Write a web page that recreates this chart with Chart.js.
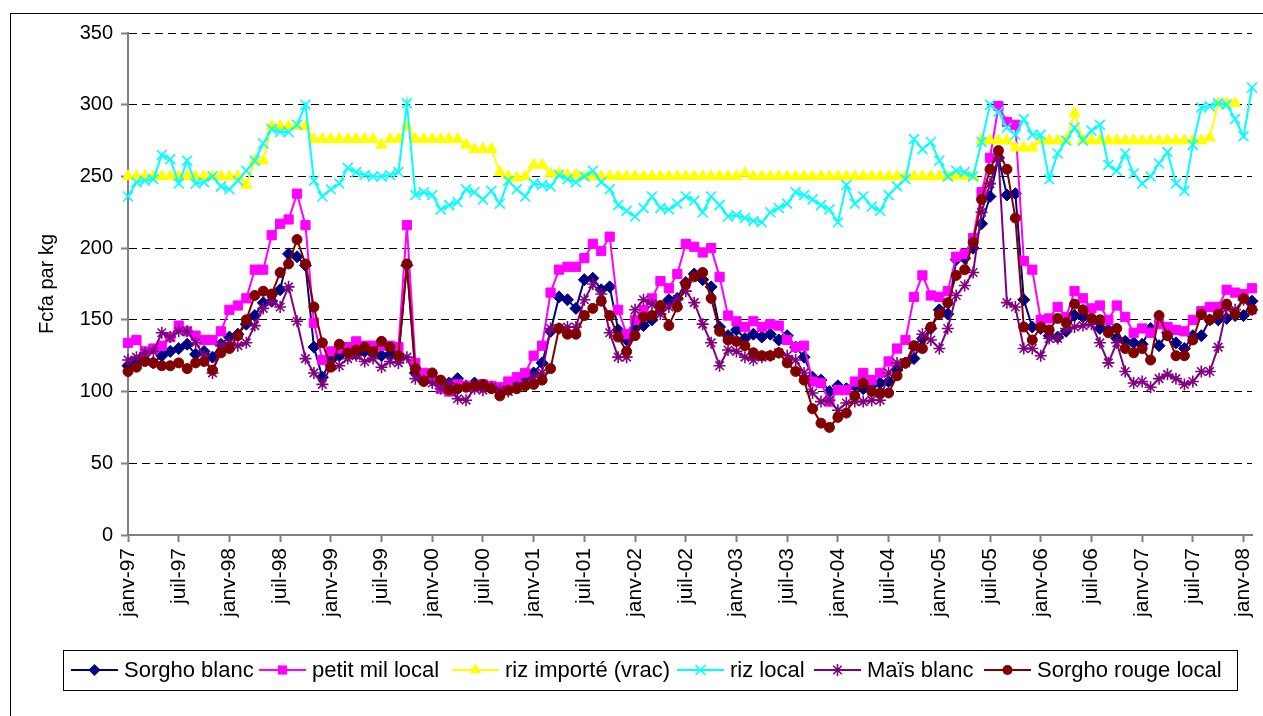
<!DOCTYPE html>
<html><head><meta charset="utf-8">
<script src="https://cdn.jsdelivr.net/npm/chart.js@4.4.1/dist/chart.umd.min.js"></script>
<style>html,body{margin:0;padding:0;background:#fff;}canvas{display:block;}</style>
</head><body>
<canvas id="c" width="1263" height="716"></canvas>
<script>
// ---- categories / ticks ----
const monthNames = ['janv','févr','mars','avr','mai','juin','juil','août','sept','oct','nov','déc'];
const startYear = 1997;
const monthCount = 134; // janv-97 .. févr-08
const categories = [];
for (let i = 0; i < monthCount; i++) {
  const y = startYear + Math.floor(i / 12);
  categories.push(monthNames[i % 12] + '-' + String(y % 100).padStart(2, '0'));
}
const tickEvery = 6;
const yTicks = [0, 50, 100, 150, 200, 250, 300, 350];
const yTitle = 'Fcfa par kg';

// ---- series ----
const sorghoBlanc = [
118,121,122,120,125,128,130,133,126,128,124,133,
138,140,147,153,162,163,171,196,194,188,131,110,
122,125,128,126,128,126,125,126,124,188,113,110,
108,106,106,109,104,106,104,103,102,103,107,110,
113,120,142,166,164,158,178,179,171,173,143,136,
144,146,150,159,164,165,176,182,178,173,145,139,
143,137,140,138,140,136,139,131,124,110,108,100,
104,102,104,102,104,106,107,115,120,123,137,144,
157,154,192,193,200,217,236,263,237,238,164,145,
144,139,138,142,153,152,151,144,143,137,135,134,
133,144,132,141,134,130,139,139,150,150,151,153,
153,163];
const petitMil = [
134,136,128,130,132,138,146,142,139,136,136,142,
157,160,165,185,185,209,217,220,238,216,148,122,
128,130,131,135,132,132,132,132,131,216,120,113,
110,102,100,105,104,103,105,104,103,107,110,113,
125,132,169,185,187,187,193,203,198,208,157,140,
150,157,165,177,172,182,203,201,197,200,180,153,
149,145,149,145,147,146,136,131,132,107,106,93,
101,101,107,113,108,113,121,130,136,166,181,167,
166,170,194,196,207,239,263,299,288,286,191,185,
150,151,159,152,170,165,158,160,150,160,152,141,
144,141,147,145,143,142,150,156,159,159,171,169,
168,172];
const rizImporte = [
250,250,250,250,250,250,250,250,250,250,250,250,
250,250,244,261,261,285,285,285,285,285,276,276,
276,276,276,276,276,276,272,276,276,285,276,276,
276,276,276,276,272,269,269,269,253,250,249,250,
258,258,252,252,251,251,250,250,250,250,250,250,
250,250,250,250,250,250,250,250,250,250,250,250,
250,252,250,250,250,250,250,250,250,250,250,250,
250,250,250,250,250,250,250,250,250,250,250,250,
250,250,250,250,250,275,275,275,275,270,270,270,
275,275,275,275,294,275,275,275,275,275,275,275,
275,275,275,275,275,275,275,275,277,301,301,301,
null,null];
const rizLocal = [
236,246,247,248,265,262,245,261,245,246,250,243,
241,247,254,261,273,283,281,281,286,300,247,236,
241,245,256,253,251,250,250,251,253,301,237,239,
237,227,230,232,241,239,234,240,231,247,241,236,
245,244,243,251,248,246,250,254,246,241,230,226,
222,228,236,228,227,231,236,233,225,236,230,222,
223,221,219,218,225,228,231,239,237,234,230,227,
218,244,231,236,229,226,237,243,248,276,269,274,
261,250,254,253,250,274,300,295,284,279,290,279,
279,248,266,275,284,275,282,286,258,254,266,252,
245,250,259,267,245,240,272,298,299,301,300,290,
278,312];
const maisBlanc = [
122,124,127,128,141,138,142,142,134,125,113,132,
134,132,134,146,158,163,159,173,149,123,113,105,
118,118,123,125,121,123,117,121,120,124,109,108,
106,102,106,95,94,102,101,103,101,100,103,106,
110,113,144,144,145,145,164,175,168,141,124,124,
157,164,161,154,159,164,170,162,147,134,118,129,
128,124,122,124,125,127,125,122,113,99,93,94,
87,92,93,93,94,94,113,120,120,130,140,136,
130,144,167,174,183,225,245,263,162,159,130,130,
125,137,137,144,145,146,147,134,120,134,114,106,
107,103,109,112,109,105,107,114,114,131,158,157,
164,157];
const sorghoRouge = [
114,117,121,120,118,118,120,116,120,121,115,127,
130,139,150,167,170,168,183,189,206,189,159,134,
117,133,127,129,131,128,135,131,125,189,116,107,
113,108,101,102,103,104,105,102,97,101,102,104,
105,108,116,144,140,140,153,158,163,153,138,128,
139,152,153,160,146,159,175,180,183,165,142,136,
135,132,127,125,125,127,120,114,108,88,78,75,
82,85,97,106,100,99,99,111,120,132,130,145,
154,162,181,185,204,234,255,268,255,221,145,136,
145,143,151,148,161,157,151,150,141,144,130,127,
130,122,153,139,125,125,136,154,150,154,161,154,
165,157];

const seriesNames = ['Sorgho blanc','petit mil local','riz importé (vrac)','riz local','Maïs blanc','Sorgho rouge local'];
const seriesData = [sorghoBlanc, petitMil, rizImporte, rizLocal, maisBlanc, sorghoRouge];
const seriesColors = ['#000080','#FF00FF','#FFFF00','#00FFFF','#800080','#800000'];
const seriesStyles = ['rectRot','rect','triangle','crossRot','star','circle'];
const seriesRadius = [6, 6.5, 6.5, 7, 6, 5];

const FONT = "'Liberation Sans', Arial, sans-serif";
Chart.defaults.font.family = FONT;
Chart.defaults.color = '#000';

const datasets = seriesNames.map((name, k) => ({
  label: name,
  data: seriesData[k],
  borderColor: seriesColors[k],
  backgroundColor: seriesColors[k],
  pointBackgroundColor: seriesColors[k],
  pointBorderColor: seriesColors[k],
  pointStyle: seriesStyles[k],
  pointRadius: seriesRadius[k],
  pointHoverRadius: seriesRadius[k],
  pointBorderWidth: (seriesStyles[k] === 'crossRot' || seriesStyles[k] === 'star') ? 1.6 : 1,
  borderWidth: 2,
  tension: 0,
  fill: false,
  clip: false,
  order: seriesNames.length - k
}));

function drawMarker(ctx, style, color, x, y, r) {
  ctx.save();
  ctx.fillStyle = color; ctx.strokeStyle = color; ctx.lineWidth = 1.6;
  ctx.beginPath();
  if (style === 'rectRot') {
    ctx.moveTo(x - r, y); ctx.lineTo(x, y - r); ctx.lineTo(x + r, y); ctx.lineTo(x, y + r); ctx.closePath(); ctx.fill();
  } else if (style === 'rect') {
    const s = r * Math.SQRT1_2; ctx.rect(x - s, y - s, 2 * s, 2 * s); ctx.fill();
  } else if (style === 'triangle') {
    ctx.moveTo(x, y - r); ctx.lineTo(x + r * 0.866, y + r * 0.5); ctx.lineTo(x - r * 0.866, y + r * 0.5); ctx.closePath(); ctx.fill();
  } else if (style === 'crossRot') {
    const s = r * Math.SQRT1_2; ctx.moveTo(x - s, y - s); ctx.lineTo(x + s, y + s); ctx.moveTo(x + s, y - s); ctx.lineTo(x - s, y + s); ctx.stroke();
  } else if (style === 'star') {
    const s = r * Math.SQRT1_2; ctx.moveTo(x - s, y - s); ctx.lineTo(x + s, y + s); ctx.moveTo(x + s, y - s); ctx.lineTo(x - s, y + s);
    ctx.moveTo(x, y - r); ctx.lineTo(x, y + r); ctx.stroke();
  } else {
    ctx.arc(x, y, r, 0, Math.PI * 2); ctx.fill();
  }
  ctx.restore();
}

const decor = {
  id: 'decor',
  afterDraw(chart) {
    const ctx = chart.ctx;
    ctx.save();
    // outer frame
    ctx.strokeStyle = '#000'; ctx.lineWidth = 1;
    ctx.strokeRect(10.5, 13.5, 1300, 800);
    // y title
    ctx.save();
    ctx.translate(47, 284);
    ctx.rotate(-Math.PI / 2);
    ctx.font = '20px ' + FONT;
    ctx.textAlign = 'center'; ctx.textBaseline = 'middle'; ctx.fillStyle = '#000';
    ctx.fillText(yTitle, 0, 0);
    ctx.restore();
    // legend
    const box = {l: 63, t: 650, r: 1237, b: 690};
    ctx.strokeStyle = '#000'; ctx.lineWidth = 1;
    ctx.strokeRect(box.l + 0.5, box.t + 0.5, box.r - box.l, box.b - box.t);
    const cy = (box.t + box.b) / 2;
    const lineStarts = [71, 259, 452, 677, 814, 984];
    ctx.font = '22px ' + FONT;
    ctx.textBaseline = 'middle'; ctx.textAlign = 'left'; ctx.fillStyle = '#000';
    seriesNames.forEach((name, k) => {
      const x0 = lineStarts[k];
      ctx.strokeStyle = seriesColors[k]; ctx.lineWidth = 2;
      ctx.beginPath(); ctx.moveTo(x0, cy); ctx.lineTo(x0 + 47, cy); ctx.stroke();
      drawMarker(ctx, seriesStyles[k], seriesColors[k], x0 + 23.5, cy, seriesRadius[k]);
      ctx.fillStyle = '#000';
      ctx.fillText(name, x0 + 53, cy + 1);
    });
    ctx.restore();
  }
};

new Chart(document.getElementById('c'), {
  type: 'line',
  data: { labels: categories, datasets },
  options: {
    responsive: false,
    animation: false,
    devicePixelRatio: 1,
    events: [],
    layout: { autoPadding: false, padding: { left: 0, top: 33, right: 11, bottom: 0 } },
    plugins: { legend: { display: false }, tooltip: { enabled: false }, title: { display: false } },
    scales: {
      x: {
        type: 'category',
        offset: false,
        afterFit(s) { s.height = 181; s.paddingLeft = 0; s.paddingRight = 0; },
        border: { display: true, color: '#808080', width: 2 },
        grid: {
          drawOnChartArea: false, drawTicks: true, tickLength: 7,
          color: c => (c.index % tickEvery === 0 ? '#808080' : 'rgba(0,0,0,0)'),
          tickColor: c => (c.index % tickEvery === 0 ? '#808080' : 'rgba(0,0,0,0)'),
          tickWidth: 2
        },
        ticks: {
          autoSkip: false, maxRotation: 90, minRotation: 90, padding: 6,
          font: { size: 21, family: FONT }, color: '#000',
          callback: (v, i) => (i % tickEvery === 0 ? categories[i] : '')
        }
      },
      y: {
        min: yTicks[0], max: yTicks[yTicks.length - 1],
        afterFit(s) { s.width = 128; s.paddingTop = 0; s.paddingBottom = 0; },
        afterBuildTicks(s) { s.ticks = yTicks.map(v => ({ value: v })); },
        border: { display: true, color: '#808080', width: 2, dash: [8, 5] },
        grid: { color: '#000', lineWidth: 1, drawTicks: true, tickLength: 7, tickColor: '#808080', tickWidth: 2 },
        ticks: { padding: 8, font: { size: 20, family: FONT }, color: '#000' }
      }
    }
  },
  plugins: [decor]
});
</script>
</body></html>
